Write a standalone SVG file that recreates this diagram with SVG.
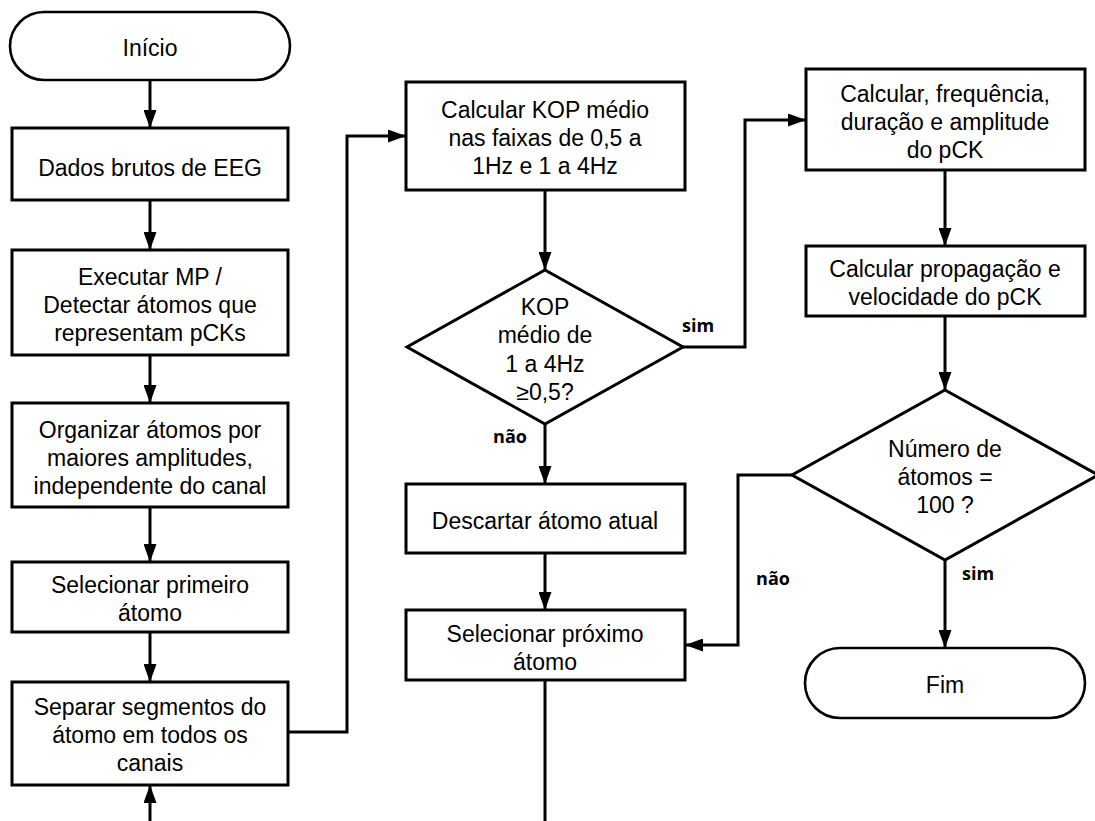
<svg xmlns="http://www.w3.org/2000/svg" width="1095" height="821" viewBox="0 0 1095 821">
<defs>
<style>
.box{fill:#fff;stroke:#000;stroke-width:3}
.term{fill:#fff;stroke:#000;stroke-width:2.6}
.t{font-family:"Liberation Sans",Arial,sans-serif;font-size:23px;fill:#000;text-anchor:middle}
.lbl{font-family:"Open Sans","DejaVu Sans",sans-serif;font-weight:bold;font-size:18px;fill:#000;text-anchor:middle}
.c{fill:none;stroke:#000;stroke-width:3;marker-end:url(#arr)}
.cn{fill:none;stroke:#000;stroke-width:3}
</style>
<marker id="arr" markerUnits="userSpaceOnUse" markerWidth="18" markerHeight="13" refX="18" refY="6.5" orient="auto">
<path d="M0,0 L18,6.5 L0,13 z" fill="#000"/>
</marker>
</defs>
<rect width="1095" height="821" fill="#fff"/>
<g id="connectors">
<path class="c" d="M150,80 V128"/>
<path class="c" d="M150,200 V250"/>
<path class="c" d="M150,355 V403"/>
<path class="c" d="M150,507 V562"/>
<path class="c" d="M150,632 V682"/>
<path class="c" d="M150,835 V785"/>
<path class="c" d="M288,732 H347 V136 H406"/>
<path class="c" d="M545,190 V270"/>
<path class="c" d="M545,424 V484"/>
<path class="c" d="M545,553 V610"/>
<path class="cn" d="M545,680 V835"/>
<path class="c" d="M683,347 H745 V120 H806"/>
<path class="c" d="M945,170 V246"/>
<path class="c" d="M945,316 V390"/>
<path class="c" d="M792,475 H738 V645 H685"/>
<path class="c" d="M945,560 V648"/>
</g>
<g id="n_inicio"><rect class="term" x="10" y="12" width="280" height="68" rx="34"/><text class="t" x="150" y="56">Início</text></g>
<g id="n_dados"><rect class="box" x="12" y="128" width="276" height="72"/><text class="t" x="150" y="176">Dados brutos de EEG</text></g>
<g id="n_executar"><rect class="box" x="12" y="250" width="276" height="105"/><text class="t" x="150" y="285">Executar MP /</text><text class="t" x="150" y="313">Detectar átomos que</text><text class="t" x="150" y="341">representam pCKs</text></g>
<g id="n_organizar"><rect class="box" x="12" y="403" width="276" height="104"/><text class="t" x="150" y="438">Organizar átomos por</text><text class="t" x="150" y="466">maiores amplitudes,</text><text class="t" x="150" y="494">independente do canal</text></g>
<g id="n_selprim"><rect class="box" x="12" y="562" width="276" height="70"/><text class="t" x="150" y="593">Selecionar primeiro</text><text class="t" x="150" y="621">átomo</text></g>
<g id="n_separar"><rect class="box" x="12" y="682" width="276" height="103"/><text class="t" x="150" y="715">Separar segmentos do</text><text class="t" x="150" y="743">átomo em todos os</text><text class="t" x="150" y="771">canais</text></g>
<g id="n_kop"><rect class="box" x="406" y="82" width="279" height="108"/><text class="t" x="545" y="118">Calcular KOP médio</text><text class="t" x="545" y="146">nas faixas de 0,5 a</text><text class="t" x="545" y="174">1Hz e 1 a 4Hz</text></g>
<g id="n_dec1"><polygon class="box" points="545,270 683,347 545,424 407,347"/><text class="t" x="545" y="315">KOP</text><text class="t" x="545" y="343">médio de</text><text class="t" x="545" y="372">1 a 4Hz</text><text class="t" x="545" y="400">≥0,5?</text></g>
<g id="n_descartar"><rect class="box" x="406" y="484" width="279" height="69"/><text class="t" x="545" y="529">Descartar átomo atual</text></g>
<g id="n_selprox"><rect class="box" x="406" y="610" width="279" height="70"/><text class="t" x="545" y="642">Selecionar próximo</text><text class="t" x="545" y="670">átomo</text></g>
<g id="n_calcfreq"><rect class="box" x="806" y="69" width="279" height="101"/><text class="t" x="945" y="102">Calcular, frequência,</text><text class="t" x="945" y="130">duração e amplitude</text><text class="t" x="945" y="158">do pCK</text></g>
<g id="n_calcprop"><rect class="box" x="806" y="246" width="279" height="70"/><text class="t" x="945" y="277">Calcular propagação e</text><text class="t" x="945" y="305">velocidade do pCK</text></g>
<g id="n_dec2"><polygon class="box" points="945,390 1098,475 945,560 792,475"/><text class="t" x="945" y="457">Número de</text><text class="t" x="945" y="485">átomos =</text><text class="t" x="945" y="513">100 ?</text></g>
<g id="n_fim"><rect class="term" x="805" y="648" width="280" height="70" rx="35"/><text class="t" x="945" y="693">Fim</text></g>
<g id="labels">
<text class="lbl" x="698" y="332">sim</text>
<text class="lbl" x="510" y="443">não</text>
<text class="lbl" x="773" y="585">não</text>
<text class="lbl" x="978" y="580">sim</text>
</g>
</svg>
